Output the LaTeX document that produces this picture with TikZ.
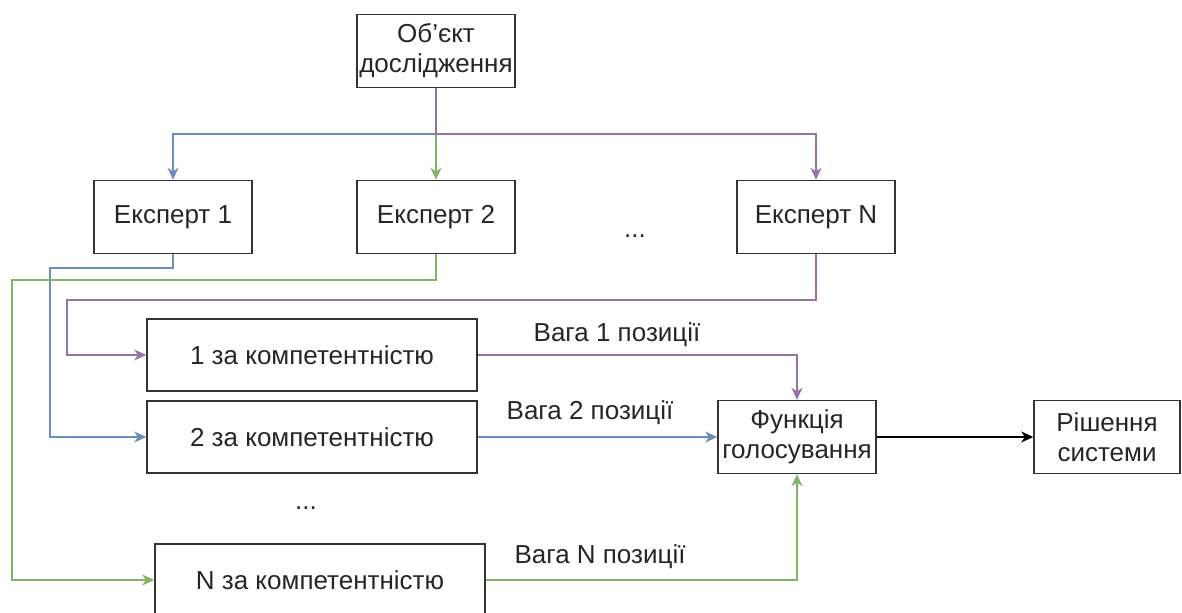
\documentclass[tikz,border=0pt]{standalone}
\usepackage{fontspec}
\setmainfont{Liberation Sans}
\usepackage{tikz}
\usetikzlibrary{arrows.meta,positioning}
\definecolor{bluel}{HTML}{6C8EBF}
\definecolor{greenl}{HTML}{82B366}
\definecolor{purplel}{HTML}{9673A6}
\tikzstyle{blk}=[draw=black!80,line width=0.75pt,minimum width=79pt,minimum height=36.5pt,align=center,inner sep=1pt,text=black!85]
\tikzstyle{wide}=[blk,minimum width=165pt,minimum height=36pt]
\tikzstyle{lbl}=[text=black!85]
\tikzstyle{con}=[line width=0.6pt,-{Stealth[length=6pt,width=5.5pt,inset=1.8pt]}]

\begin{document}
\begin{tikzpicture}[x=0.5pt,y=-0.5pt,font=\fontsize{13}{15}\selectfont]
        \useasboundingbox (0,0) rectangle (1182,613);
        % objekt i eksperty
        \node (obj) at (436,51) [blk] {Об'єкт\\дослідження};
        \node (e1) at (173,217) [blk] {Експерт 1};
        \node (e2) at (436,217) [blk] {Експерт 2};
        \node (eN) at (816,217) [blk] {Експерт N};
        \node (dots1) at (635,236) [lbl] {...};
        % kompetentnist
        \node (k1) at (312,355) [wide] {1 за компетентністю};
        \node (k2) at (312,437) [wide] {2 за компетентністю};
        \node (dots2) at (306,508) [lbl] {...};
        \node (kN) at (320,580) [wide] {N за компетентністю};
        \node (fv) at (797,437) [blk] {Функція\\голосування};
        \node (rs) at (1107,437) [blk,minimum width=73pt] {Рішення\\системи};
        \coordinate (split) at (436,134);
        % z'ednannja
        \draw[con,color=bluel] (split) -| (e1.north);
        \draw[con,color=greenl] (split) -- (e2.north);
        \draw[con,color=purplel] (obj.south) -- (split) -| (eN.north);
        \draw[con,color=bluel] (e1.south) |- (50,268) |- (k2.west);
        \draw[con,color=greenl] (e2.south) |- (12,280) |- (kN.west);
        \draw[con,color=purplel] (eN.south) |- (67,300) |- (k1.west);
        \draw[con,color=purplel] (k1.east) -| (fv.north);
        \draw[con,color=bluel] (k2.east) -- (fv.west);
        \draw[con,color=greenl] (kN.east) -| (fv.south);
        \draw[con,color=black] (fv.east) -- (rs.west);
        \node (w1) at (617,335) [lbl] {Вага 1 позиції};
        \node (w2) at (590,413) [lbl] {Вага 2 позиції};
        \node (wN) at (600,557) [lbl] {Вага N позиції};
      \end{tikzpicture}
\end{document}
